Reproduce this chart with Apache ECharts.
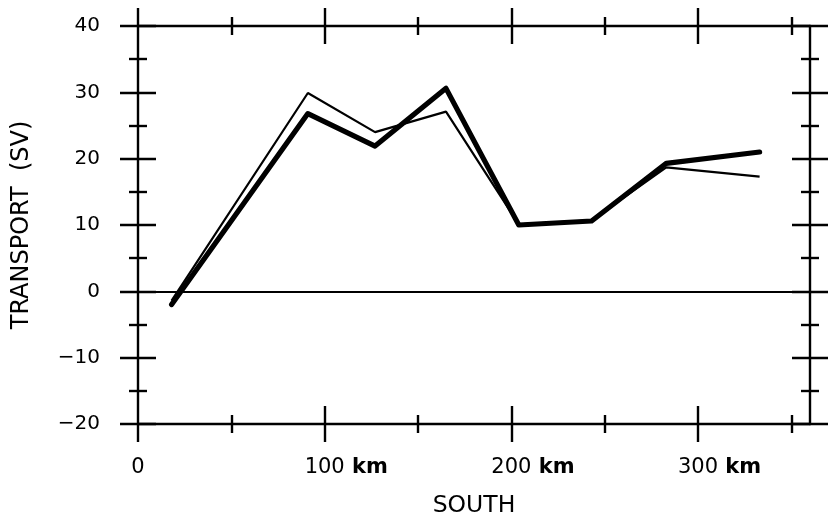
<!DOCTYPE html>
<html>
<head>
<meta charset="utf-8">
<script src="https://cdn.jsdelivr.net/npm/echarts@6/dist/echarts.min.js"></script>
<style>
html,body{margin:0;padding:0;background:#fff;}
#c{width:829px;height:528px;}
</style>
</head>
<body>
<div id="c"></div>
<script>
// ---- data ----
const stationKm = [18, 91, 127, 165, 204, 243, 283, 333];
const thinTransport = [-1.4, 29.9, 24.0, 27.1, 10.1, 10.7, 18.7, 17.3];
const thickTransport = [-2.0, 26.8, 21.9, 30.6, 10.0, 10.6, 19.3, 21.0];
const xMajorTicks = [100, 200, 300];
const xMinorTicks = [50, 150, 250, 350];
const xLabelValues = [0, 100, 200, 300];
const yMajorTicks = [-20, -10, 0, 10, 20, 30, 40];
const yMinorTicks = [-15, -5, 5, 15, 25, 35];
const xMin = 0, xMax = 360, yMin = -20, yMax = 40;

const FONT = 'DejaVu Sans';
const BLACK = '#000';

function xAxisDef(pos, offset, opts) {
  return Object.assign({
    type: 'value', position: pos, min: xMin, max: xMax, offset: offset,
    axisLine: { show: false, onZero: false },
    axisTick: { show: false },
    axisLabel: { show: false },
    splitLine: { show: false }
  }, opts || {});
}
function yAxisDef(pos, offset, opts) {
  return Object.assign({
    type: 'value', position: pos, min: yMin, max: yMax, offset: offset,
    axisLine: { show: false, onZero: false },
    axisTick: { show: false },
    axisLabel: { show: false },
    splitLine: { show: false }
  }, opts || {});
}
const tickStyle = { color: BLACK, width: 2.4 };
const lineStyle = { show: true, onZero: false, lineStyle: { color: BLACK, width: 2.4 } };

const xAxes = [
  xAxisDef('bottom', 0, {
    axisLine: lineStyle,
    name: 'SOUTH', nameLocation: 'middle', nameGap: 70,
    nameTextStyle: { fontFamily: FONT, fontSize: 23.5, color: BLACK },
    axisLabel: {
      show: true, customValues: xLabelValues, margin: 33,
      formatter: v => v === 0 ? '{n|0}' : '{h| km}{n|' + v + '}{k| km}',
      rich: {
        n: { fontFamily: FONT, fontSize: 21, color: BLACK },
        k: { fontFamily: FONT, fontSize: 21, color: BLACK, fontWeight: 'bold' },
        h: { fontFamily: FONT, fontSize: 21, color: 'rgba(0,0,0,0)', fontWeight: 'bold' }
      }
    }
  }),
  xAxisDef('bottom', -18, { axisTick: { show: true, customValues: xMajorTicks, length: 36, lineStyle: tickStyle } }),
  xAxisDef('bottom', -9, { axisTick: { show: true, customValues: xMinorTicks, length: 18, lineStyle: tickStyle } }),
  xAxisDef('top', 0, { axisLine: lineStyle }),
  xAxisDef('top', -18, { axisTick: { show: true, customValues: xMajorTicks, length: 36, lineStyle: tickStyle } }),
  xAxisDef('top', -9, { axisTick: { show: true, customValues: xMinorTicks, length: 18, lineStyle: tickStyle } })
];
const yAxes = [
  yAxisDef('left', 0, {
    axisLine: lineStyle,
    name: 'TRANSPORT  (SV)', nameLocation: 'middle', nameGap: 104,
    nameTextStyle: { fontFamily: FONT, fontSize: 24, color: BLACK },
    axisLabel: {
      show: true, customValues: yMajorTicks, margin: 38,
      fontFamily: FONT, fontSize: 20, color: BLACK,
      formatter: v => (v < 0 ? '\u2212' + Math.abs(v) : String(v))
    }
  }),
  yAxisDef('left', -18, { axisTick: { show: true, customValues: yMajorTicks, length: 36, lineStyle: tickStyle } }),
  yAxisDef('left', -9, { axisTick: { show: true, customValues: yMinorTicks, length: 18, lineStyle: tickStyle } }),
  yAxisDef('right', 0, { axisLine: lineStyle }),
  yAxisDef('right', -18, { axisTick: { show: true, customValues: yMajorTicks, length: 36, lineStyle: tickStyle } }),
  yAxisDef('right', -9, { axisTick: { show: true, customValues: yMinorTicks, length: 18, lineStyle: tickStyle } })
];

const chart = echarts.init(document.getElementById('c'), null, { renderer: 'canvas' });
chart.setOption({
  backgroundColor: '#fff',
  animation: false,
  grid: { left: 138, right: 19, top: 26, bottom: 104, containLabel: false },
  xAxis: xAxes,
  yAxis: yAxes,
  series: [
    {
      type: 'line', xAxisIndex: 0, yAxisIndex: 0,
      data: stationKm.map((x, i) => [x, thinTransport[i]]),
      symbol: 'none', lineStyle: { color: BLACK, width: 2.2 },
      markLine: {
        silent: true, symbol: 'none', label: { show: false },
        lineStyle: { color: BLACK, width: 2.2, type: 'solid' },
        data: [{ yAxis: 0 }]
      }
    },
    {
      type: 'line', xAxisIndex: 0, yAxisIndex: 0,
      data: stationKm.map((x, i) => [x, thickTransport[i]]),
      symbol: 'none', lineStyle: { color: BLACK, width: 5.2, join: 'round', cap: 'round' }
    }
  ]
});

// extend the left axis line beyond the frame, as in the original plot
const pTop = chart.convertToPixel({ xAxisIndex: 0, yAxisIndex: 0 }, [xMin, yMax]);
const pBot = chart.convertToPixel({ xAxisIndex: 0, yAxisIndex: 0 }, [xMin, yMin]);
chart.setOption({
  graphic: [
    { type: 'line', shape: { x1: pTop[0], y1: pTop[1] - 18, x2: pTop[0], y2: pTop[1] }, style: { stroke: BLACK, lineWidth: 2.4 } },
    { type: 'line', shape: { x1: pBot[0], y1: pBot[1], x2: pBot[0], y2: pBot[1] + 18 }, style: { stroke: BLACK, lineWidth: 2.4 } }
  ]
});
</script>
</body>
</html>
